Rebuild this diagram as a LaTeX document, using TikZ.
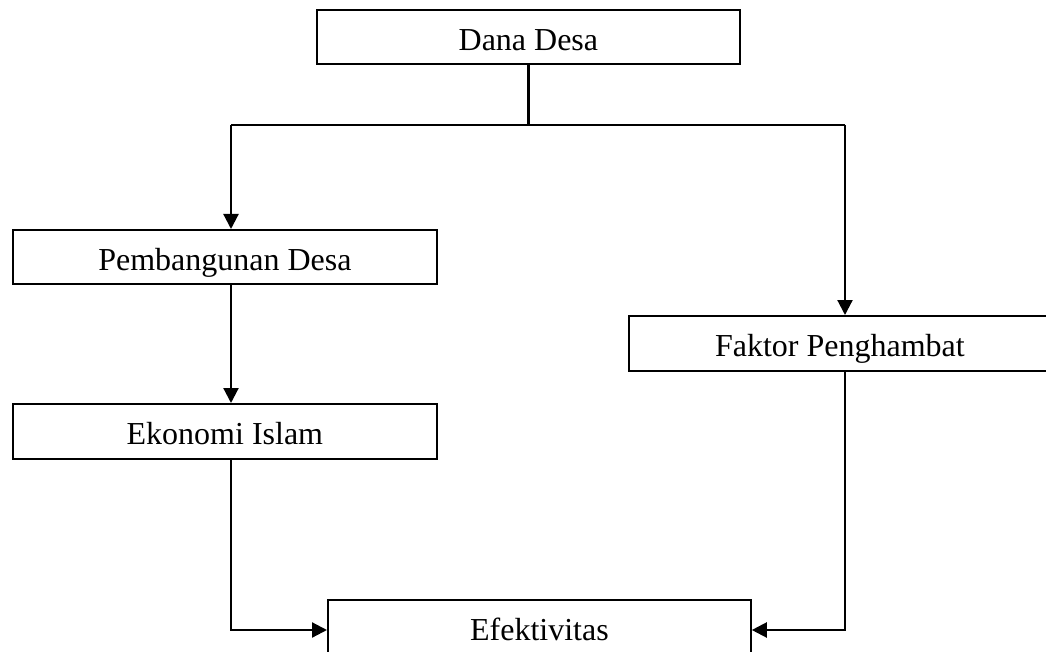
\documentclass[tikz,border=0pt]{standalone}
\usepackage{fontspec}
\setmainfont{Liberation Serif}
\usetikzlibrary{arrows.meta}
\begin{document}
\begin{tikzpicture}[x=1pt,y=-1pt,
  box/.style={draw, line width=1.8pt, anchor=north west, inner sep=0pt,
    text height=27pt, text depth=0pt, font=\fontsize{32}{38}\selectfont},
  conn/.style={line width=2.2pt},
  arr/.style={conn, -{Triangle[length=15pt,width=15pt]}}]
\useasboundingbox (0,0) rectangle (1046,652);
\clip (0,0) rectangle (1046,652);
\node[box, minimum width=423pt, minimum height=54pt] (dana) at (316,9) {Dana Desa};
\node[box, minimum width=424pt, minimum height=54pt] (pemb) at (12,229) {Pembangunan Desa};
\node[box, minimum width=424pt, minimum height=55pt] (eko) at (12,403) {Ekonomi Islam};
\node[box, minimum width=422pt, minimum height=55pt] (fak) at (628,315) {Faktor Penghambat};
\node[box, minimum width=423pt, minimum height=55pt] (efek) at (327,599) {Efektivitas};
\coordinate (jl) at (231,125);
\coordinate (jr) at (845,125);
\coordinate (ya) at (0,630);
\draw[conn] (dana.south) -- (dana.south |- jl);
\draw[conn] (jl) -- (jr);
\draw[arr] (jl) -- (jl |- pemb.north);
\draw[arr] (jl |- pemb.south) -- (jl |- eko.north);
\draw[arr] (jr) -- (jr |- fak.north);
\draw[arr] (jl |- eko.south) -- (jl |- ya) -- (efek.west |- ya);
\draw[arr] (jr |- fak.south) -- (jr |- ya) -- (efek.east |- ya);
\end{tikzpicture}
\end{document}
